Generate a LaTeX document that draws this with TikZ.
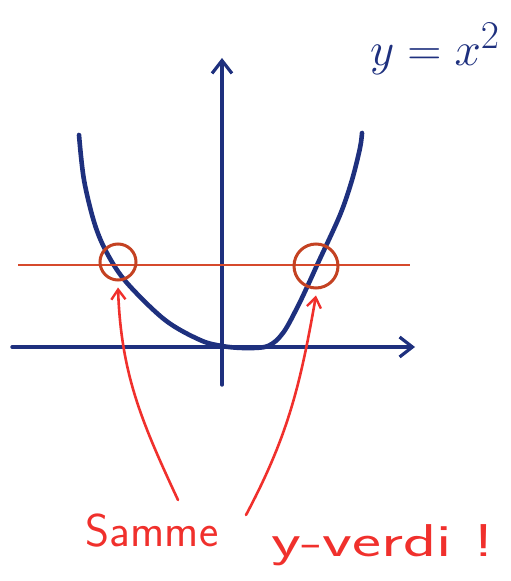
\documentclass[tikz,border=0pt]{standalone}
\usepackage{tikz}
\usetikzlibrary{positioning,arrows.meta}
\definecolor{penblue}{RGB}{30,48,126}
\definecolor{penred}{RGB}{240,48,44}
\definecolor{penrust}{RGB}{196,66,34}
\definecolor{penline}{RGB}{214,74,44}
\tikzset{
  axis/.style={draw=penblue, line width=3.4pt, line cap=round,
               -{Straight Barb[length=4.5mm, width=7mm, line width=3.2pt]}},
  curve/.style={draw=penblue, line width=4.6pt, line cap=round},
  level/.style={draw=penline, line width=2.4pt},
  ring/.style={circle, draw=penrust, line width=3pt, inner sep=0pt},
  pointer/.style={draw=penred, line width=2.6pt, line cap=round,
                  -{Straight Barb[length=3.5mm, width=5mm, line width=2.4pt]}},
  note/.style={text=penred, font=\sffamily\fontsize{46}{50}\selectfont, inner sep=0pt},
  eqn/.style={text=penblue, font=\Huge, inner sep=0pt, scale=1.9, transform shape},
}

\begin{document}
\begin{tikzpicture}[x=1pt, y=1pt]
  \useasboundingbox (0,0) rectangle (511,581);
  % axes
  \coordinate (xl) at (12,234);
  \coordinate (xr) at (415,234);
  \coordinate (yb) at (222,196);
  \coordinate (yt) at (222,523);
  \draw[axis] (xl) -- (xr);
  \draw[axis] (yb) -- (yt);
  % parabola
  \draw[curve] plot[smooth, tension=0.55] coordinates
    {(79,446) (84,401) (95,356) (108,326) (127,298) (165,261) (200,241)
     (222,235) (245,233) (268,235) (283,248) (297,273) (308,296) (318,318)
     (340,366) (352,401) (360,433) (362,448)};
  % same y-level
  \coordinate (ll) at (18,316);
  \coordinate (lr) at (410,316);
  \draw[level] (ll) -- (lr);
  \node[ring, minimum size=36pt] (cl) at (118,319) {};
  \node[ring, minimum size=44pt] (cr) at (316,315) {};
  % labels
  \node[eqn] (eq) at (435,532) {$y=x^2$};
  \node[note] (same) at (152,50) {Samme};
  \node[note, xscale=1.5, transform shape] (yval) at (383,36) {y-verdi !};
  % pointers
  \coordinate (pl) at (178,81);
  \coordinate (pr) at (246,66);
  \draw[pointer] (pl) to[out=115, in=-88] ([yshift=-6pt]cl.south);
  \draw[pointer] (pr) to[out=62, in=-100] ([yshift=-6pt]cr.south);
\end{tikzpicture}
\end{document}
